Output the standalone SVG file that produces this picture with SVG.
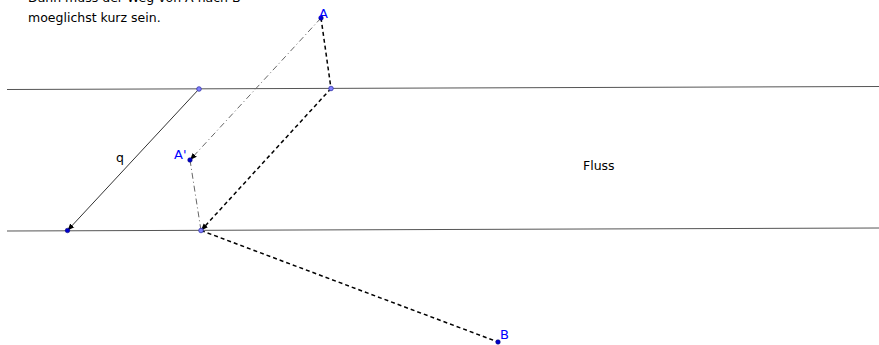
<svg xmlns="http://www.w3.org/2000/svg" width="879" height="345" viewBox="0 0 879 345">
<defs>
<style>
.t{font-family:"DejaVu Sans",sans-serif;font-size:12.5px;fill:#000}
.lb{font-family:"DejaVu Sans",sans-serif;font-size:13px;fill:#0000ff}
.river{stroke:#555;stroke-width:1;fill:none}
.dash{stroke:#000;stroke-width:1.5;stroke-dasharray:4,3;fill:none}
.dd{stroke:#666;stroke-width:1;stroke-dasharray:6,3,1,3;fill:none}
.vec{stroke:#333;stroke-width:1;fill:none}
.pt{fill:#0000cc;stroke:#000066;stroke-width:0.5}
.pt2{fill:#8080ff;stroke:#3333aa;stroke-width:0.8}
</style>
<marker id="ar" viewBox="0 0 10 10" refX="10" refY="5" markerWidth="7" markerHeight="7" markerUnits="userSpaceOnUse" orient="auto">
<path d="M0,1 L10,5 L0,9 Z" fill="#000"/>
</marker>
</defs>
<g id="text">
<text class="t" x="28" y="1.5">Dann muss der Weg von A nach B</text>
<text class="t" x="28" y="22">moeglichst kurz sein.</text>
</g>
<g id="connectors">
<line id="ufer1" class="river" x1="7" y1="89.5" x2="879" y2="86.5"/>
<line id="ufer2" class="river" x1="7" y1="231" x2="879" y2="228"/>
<line id="q" class="vec" x1="199" y1="89" x2="67.5" y2="230.5" marker-end="url(#ar)"/>
<line class="dd" x1="321" y1="18" x2="190" y2="160" marker-end="url(#ar)"/>
<line class="dd" x1="190" y1="160" x2="201" y2="230.5"/>
<line class="dash" x1="321" y1="18" x2="331" y2="88.5"/>
<line class="dash" x1="331" y1="88.5" x2="201" y2="230.5" marker-end="url(#ar)"/>
<line class="dash" x1="201" y1="230.5" x2="498" y2="342"/>
</g>
<g id="P1"><circle class="pt2" cx="199" cy="89" r="2.3"/></g>
<g id="P2"><circle class="pt2" cx="331" cy="88.5" r="2.3"/></g>
<g id="P3"><circle class="pt2" cx="201" cy="230.5" r="2.3"/></g>
<g id="Q"><circle class="pt" cx="67.5" cy="230.5" r="2.3"/></g>
<g id="A"><circle class="pt" cx="321" cy="18" r="2.3"/><text class="lb" x="319" y="18">A</text></g>
<g id="A2"><circle class="pt" cx="190" cy="160" r="2.3"/><text class="lb" x="174" y="159">A'</text></g>
<g id="B"><circle class="pt" cx="498" cy="342" r="2.3"/><text class="lb" x="500" y="339">B</text></g>
<g id="labels">
<text class="t" x="583" y="170">Fluss</text>
<text class="t" x="116" y="162">q</text>
</g>
</svg>
